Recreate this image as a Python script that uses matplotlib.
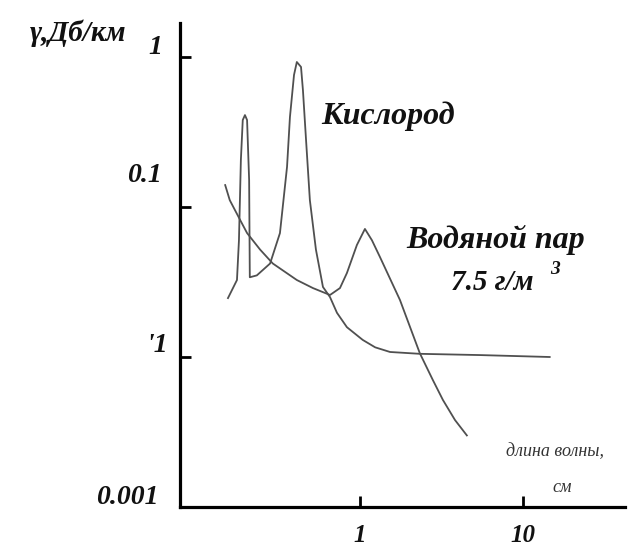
import matplotlib.pyplot as plt
from matplotlib.ticker import NullLocator

# погонное затухание радиоволн в атмосфере
# длина волны, см  /  затухание, дБ/км
oxygen_wl = [0.155, 0.176, 0.181, 0.186, 0.191, 0.197, 0.203, 0.209, 0.211,
             0.233, 0.281, 0.323, 0.357, 0.372, 0.394, 0.410, 0.435, 0.447,
             0.467, 0.493, 0.537, 0.593, 0.655, 0.723, 0.832, 1.04, 1.24,
             1.53, 2.33, 5.45, 14.6]
oxygen_att = [0.0247, 0.0326, 0.060, 0.206, 0.38, 0.41, 0.38, 0.151, 0.034,
              0.035, 0.042, 0.067, 0.185, 0.398, 0.759, 0.926, 0.858, 0.60,
              0.28, 0.111, 0.052, 0.0293, 0.0251, 0.0197, 0.0158, 0.013,
              0.0116, 0.0108, 0.0105, 0.0103, 0.0100]

water_wl = [0.149, 0.159, 0.184, 0.203, 0.244, 0.292, 0.410, 0.515, 0.655,
            0.754, 0.832, 0.958, 1.073, 1.185, 1.327, 1.76, 2.33, 2.80, 3.23,
            3.83, 4.53]
water_att = [0.140, 0.111, 0.082, 0.067, 0.052, 0.042, 0.0326, 0.0288, 0.0259,
             0.0288, 0.0363, 0.0558, 0.0714, 0.060, 0.0464, 0.024, 0.0106,
             0.00703, 0.00517, 0.0038, 0.0030]

xticks = [1, 10]
xtick_labels = ['1', '10']
yticks = [0.001, 0.01, 0.1, 1]
ytick_labels = ['0.001', "'1", '0.1', '1']

W, H = 628, 548
fig = plt.figure(figsize=(W / 100, H / 100), dpi=100)
ax = fig.add_axes([180 / W, 1 - 507 / H, 445 / W, 484 / H])

line_kw = dict(color='#505050', lw=1.3, solid_joinstyle='round')
ax.plot(oxygen_wl, oxygen_att, **line_kw)
ax.plot(water_wl, water_att, **line_kw)

ax.set_xscale('log')
ax.set_yscale('log')
ax.set_xlim(0.0787, 42.3)
ax.set_ylim(0.001, 1.685)

for s in ['top', 'right']:
    ax.spines[s].set_visible(False)
for s in ['left', 'bottom']:
    ax.spines[s].set_linewidth(2.3)

bold = dict(family='Liberation Serif', weight='bold', style='italic', color='#111111')

ax.set_xticks(xticks, xtick_labels, fontsize=18, **bold)
ax.set_yticks(yticks, ['' for _ in yticks])
ax.xaxis.set_minor_locator(NullLocator())
ax.yaxis.set_minor_locator(NullLocator())
ax.tick_params(axis='both', direction='in', length=8, width=2)
ax.tick_params(axis='x', pad=12)


def px(x, y):
    return x / W, 1 - y / H


# подписи оси Y
ylab_pos = [(127, 498), (157, 345), (144, 176), (155, 47)]
for lab, (x, y) in zip(ytick_labels, ylab_pos):
    fig.text(*px(x, y), lab, ha='center', va='center', fontsize=20, **bold)

fig.text(*px(78, 33), 'γ,Дб/км', ha='center', va='center', fontsize=21, **bold)
fig.text(*px(388, 116), 'Кислород', ha='center', va='center', fontsize=23, **bold)
fig.text(*px(496, 240), 'Водяной пар', ha='center', va='center', fontsize=23, **bold)
fig.text(*px(492, 283), '7.5 г/м', ha='center', va='center', fontsize=21, **bold)
fig.text(*px(555, 270), '3', ha='center', va='center', fontsize=14, **bold)

thin = dict(family='Liberation Serif', style='italic', color='#333333')
fig.text(*px(555, 452), 'длина волны,', ha='center', va='center', fontsize=13, **thin)
fig.text(*px(562, 488), 'см', ha='center', va='center', fontsize=13, **thin)

fig.savefig('out.png', dpi=100)
